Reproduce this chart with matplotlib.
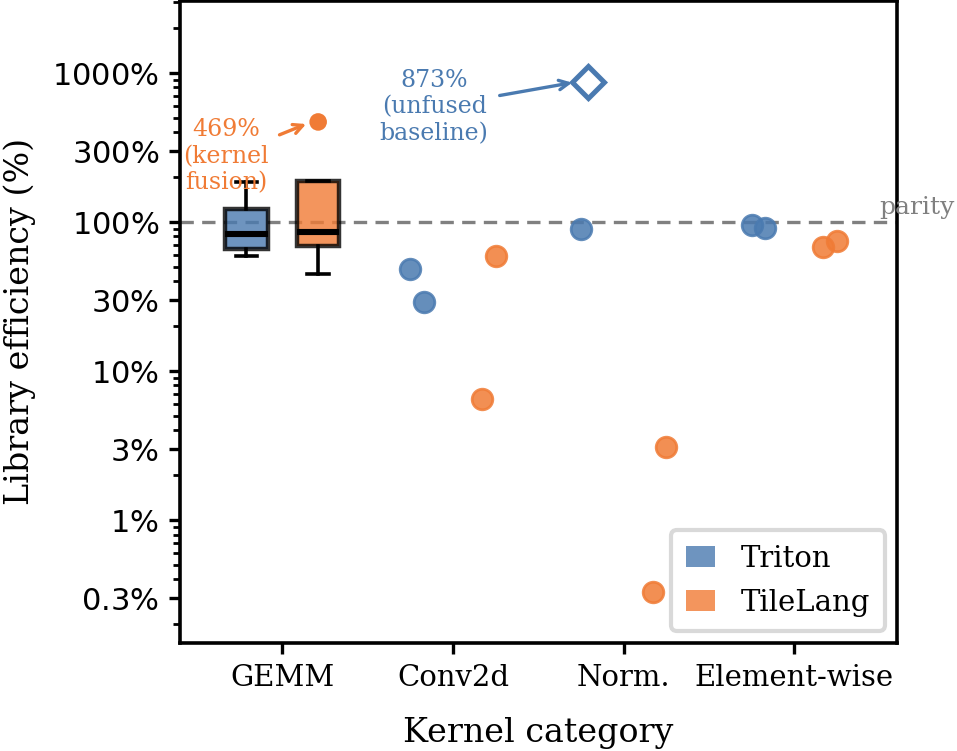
import matplotlib
matplotlib.use('Agg')
import matplotlib.pyplot as plt
from matplotlib.patches import Patch
from matplotlib.ticker import FixedLocator, FixedFormatter, LogLocator, NullFormatter

plt.rcParams['font.family'] = ['DejaVu Serif']
plt.rcParams['mathtext.fontset'] = 'dejavusans'

# --- data (library efficiency, %) ---
categories = ['GEMM', 'Conv2d', 'Norm.', 'Element-wise']
backends = ['Triton', 'TileLang']
colors = {'Triton': '#4a7ab0', 'TileLang': '#f07b35'}

# GEMM box stats: whislo, q1, med, q3, whishi
gemm_triton_box = [59, 66, 83, 122, 186]
gemm_tilelang_box = [45, 69, 86, 189, 189]
gemm_tilelang_outlier = [469]

conv_triton = [48, 29]
conv_tilelang = [6.5, 59]
norm_triton = [90]
norm_tilelang = [0.33, 3.1]
elem_triton = [95, 91]
elem_tilelang = [68, 75]

norm_unfused_baseline = 873

ytick_vals = [0.3, 1, 3, 10, 30, 100, 300, 1000]
ytick_labels = [r'$0.3\%$', r'$1\%$', r'$3\%$', r'$10\%$', r'$30\%$',
                r'$100\%$', r'$300\%$', r'$1000\%$']

fig = plt.figure(figsize=(4.785, 3.755), dpi=200)
ax = fig.add_axes([0.188, 0.144, 0.749, 0.855])

off = 0.21
jit = [-0.04, 0.04]

# parity line
ax.axhline(100, color='#808080', ls='--', lw=1.2, dashes=(4, 2.5), zorder=1)
ax.text(3.5, 104, 'parity', color='#808080', fontsize=9, ha='left', va='bottom',
        clip_on=False)

# GEMM boxes
def box_stats(vals, fliers):
    lo, q1, med, q3, hi = vals
    return dict(whislo=lo, q1=q1, med=med, q3=q3, whishi=hi, fliers=fliers)

for name, vals, pos in [('Triton', gemm_triton_box, -off),
                        ('TileLang', gemm_tilelang_box, off)]:
    bp = ax.bxp([box_stats(vals, [])], positions=[pos], widths=0.25,
                patch_artist=True, showfliers=False, manage_ticks=False,
                boxprops=dict(facecolor=colors[name], alpha=0.8,
                              edgecolor='black', lw=1.6),
                medianprops=dict(color='black', lw=2.2),
                whiskerprops=dict(color='black', lw=1.3),
                capprops=dict(color='black', lw=1.3))
    for b in bp['boxes']:
        b.set_zorder(2)

ax.scatter([off] * len(gemm_tilelang_outlier), gemm_tilelang_outlier,
           s=40, color=colors['TileLang'], zorder=3, edgecolors='none')

# scatter points for other categories
series = {
    'Triton': [conv_triton, norm_triton, elem_triton],
    'TileLang': [conv_tilelang, norm_tilelang, elem_tilelang],
}
for name, groups in series.items():
    sign = -1 if name == 'Triton' else 1
    for ci, vals in enumerate(groups, start=1):
        xs = [ci + sign * off + jit[i] for i in range(len(vals))]
        ax.scatter(xs, vals, s=55, color=colors[name], alpha=0.85,
                   edgecolors=colors[name], linewidths=1.0, zorder=3)

# unfused baseline diamond
ax.plot([2 - off], [norm_unfused_baseline], marker='D', ms=8, mfc='white',
        mec=colors['Triton'], mew=1.8, ls='none', zorder=4)

ax.annotate('873%\n(unfused\nbaseline)', xy=(2 - off - 0.06, norm_unfused_baseline),
            xytext=(0.89, 590), textcoords='data', ha='center', va='center',
            fontsize=8.5, color=colors['Triton'],
            arrowprops=dict(arrowstyle='->', color=colors['Triton'], lw=1.2))
ax.annotate('469%\n(kernel\nfusion)', xy=(off - 0.04, 469),
            xytext=(-0.33, 275), textcoords='data', ha='center', va='center',
            fontsize=8.5, color=colors['TileLang'],
            arrowprops=dict(arrowstyle='->', color=colors['TileLang'], lw=1.2))

ax.set_yscale('log')
ax.set_ylim(0.15, 3050)
ax.set_xlim(-0.6, 3.6)
ax.yaxis.set_major_locator(FixedLocator(ytick_vals))
ax.yaxis.set_major_formatter(FixedFormatter(ytick_labels))
ax.yaxis.set_minor_locator(LogLocator(base=10, subs=range(2, 10), numticks=20))
ax.yaxis.set_minor_formatter(NullFormatter())

ax.set_xticks(range(len(categories)))
ax.set_xticklabels(categories)
ax.tick_params(axis='x', labelsize=10.5, width=1.2, length=4)
ax.tick_params(axis='y', labelsize=11, width=1.2, length=4)
ax.tick_params(axis='y', which='minor', width=1.0, length=2.5)
for s in ax.spines.values():
    s.set_linewidth(1.3)

ax.set_xlabel('Kernel category', fontsize=12, labelpad=9)
ax.set_ylabel('Library efficiency (%)', fontsize=12, labelpad=6)

handles = [Patch(facecolor=colors[b], alpha=0.8, label=b) for b in backends]
leg = ax.legend(handles=handles, loc='lower right', fontsize=10.5,
                handlelength=1.0, handleheight=0.7, frameon=True,
                borderpad=0.5, labelspacing=0.55, handletextpad=0.9,
                borderaxespad=0.4)
leg.get_frame().set_edgecolor('#d0d0d0')
leg.get_frame().set_linewidth(1.5)

fig.savefig('out.png', dpi=200)
